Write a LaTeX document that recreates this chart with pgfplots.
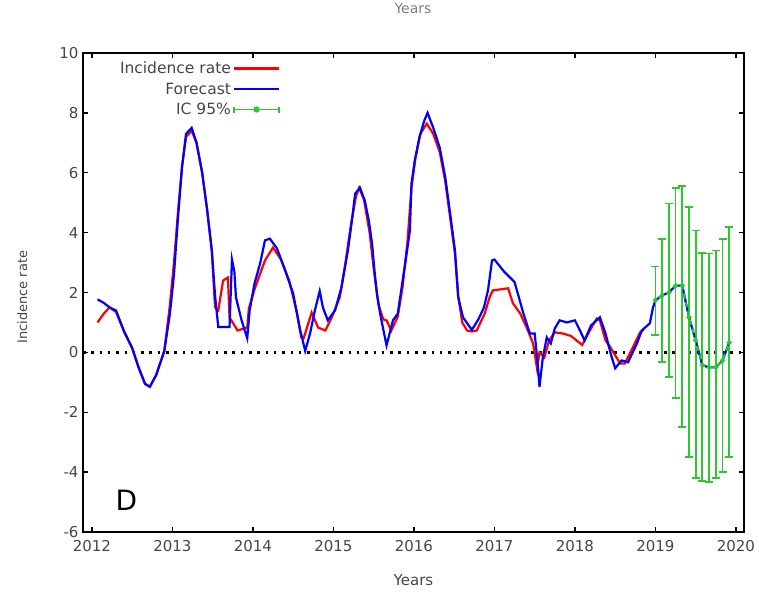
\documentclass[border=0pt]{standalone}
\usepackage{pgfplots}
\usepackage{pgfplotstable}
\pgfplotsset{compat=1.18}
\usepackage{fontspec}
\setmainfont{DejaVu Sans}
\definecolor{myred}{RGB}{255,0,0}
\definecolor{myblue}{RGB}{0,0,255}
\definecolor{mygreen}{RGB}{45,200,45}
\definecolor{txt}{RGB}{70,70,70}

\pgfplotstableread{
x y
2012.07 1.0
2012.15 1.3
2012.22 1.5
2012.30 1.35
2012.40 0.7
2012.50 0.15
2012.58 -0.5
2012.66 -1.05
2012.72 -1.15
2012.80 -0.75
2012.90 0.05
2012.97 1.6
2013.02 3.0
2013.07 4.7
2013.12 6.2
2013.17 7.2
2013.24 7.4
2013.30 7.0
2013.37 6.0
2013.43 4.8
2013.49 3.4
2013.53 1.5
2013.57 1.4
2013.63 2.4
2013.69 2.5
2013.71 1.17
2013.81 0.73
2013.93 0.83
2013.95 1.47
2014.02 2.1
2014.10 2.7
2014.15 3.07
2014.25 3.5
2014.35 3.1
2014.45 2.4
2014.55 1.3
2014.60 0.5
2014.63 0.47
2014.73 1.33
2014.81 0.83
2014.90 0.73
2014.98 1.17
2015.08 1.84
2015.15 3.0
2015.22 4.3
2015.28 5.2
2015.32 5.5
2015.38 5.1
2015.45 4.0
2015.50 2.8
2015.56 1.6
2015.62 1.1
2015.66 1.07
2015.72 0.73
2015.80 1.2
2015.86 2.2
2015.92 3.7
2015.97 5.5
2016.02 6.5
2016.08 7.3
2016.16 7.64
2016.24 7.3
2016.32 6.7
2016.39 5.7
2016.45 4.5
2016.51 3.3
2016.55 1.9
2016.60 1.0
2016.66 0.73
2016.72 0.7
2016.78 0.73
2016.88 1.3
2016.94 1.84
2016.98 2.07
2017.17 2.14
2017.23 1.64
2017.32 1.3
2017.40 0.83
2017.48 0.3
2017.53 -0.55
2017.56 0.0
2017.62 -0.17
2017.68 0.4
2017.75 0.67
2017.85 0.63
2017.95 0.55
2018.02 0.4
2018.09 0.25
2018.18 0.7
2018.27 1.13
2018.31 1.07
2018.38 0.4
2018.45 0.13
2018.56 -0.37
2018.62 -0.37
2018.72 0.17
2018.81 0.67
2018.85 0.75
}\incidence

\pgfplotstableread{
x y
2012.07 1.77
2012.15 1.65
2012.22 1.5
2012.30 1.4
2012.40 0.7
2012.50 0.15
2012.58 -0.5
2012.66 -1.05
2012.72 -1.15
2012.80 -0.75
2012.90 0.05
2012.97 1.3
2013.02 2.6
2013.07 4.5
2013.12 6.2
2013.17 7.3
2013.24 7.5
2013.30 7.0
2013.37 6.0
2013.43 4.8
2013.49 3.4
2013.53 1.9
2013.57 0.85
2013.71 0.85
2013.74 3.1
2013.77 2.7
2013.79 1.83
2013.86 1.07
2013.93 0.47
2013.96 1.4
2014.02 2.3
2014.09 2.97
2014.15 3.74
2014.21 3.8
2014.30 3.47
2014.40 2.74
2014.50 1.97
2014.58 0.83
2014.65 0.05
2014.71 0.63
2014.77 1.4
2014.83 2.05
2014.87 1.5
2014.93 1.07
2015.02 1.4
2015.10 2.17
2015.18 3.4
2015.23 4.4
2015.27 5.3
2015.33 5.5
2015.39 5.07
2015.44 4.4
2015.48 3.64
2015.51 2.74
2015.54 1.97
2015.58 1.3
2015.66 0.23
2015.74 1.07
2015.80 1.3
2015.86 2.4
2015.91 3.3
2015.95 4.07
2015.97 5.64
2016.01 6.4
2016.07 7.2
2016.13 7.75
2016.17 8.0
2016.24 7.5
2016.32 6.85
2016.39 5.84
2016.45 4.64
2016.51 3.4
2016.55 1.84
2016.61 1.17
2016.72 0.75
2016.80 1.1
2016.87 1.5
2016.92 2.07
2016.97 3.07
2017.00 3.1
2017.12 2.7
2017.25 2.35
2017.29 1.97
2017.36 1.3
2017.44 0.63
2017.50 0.63
2017.53 -0.17
2017.56 -1.15
2017.60 -0.2
2017.65 0.5
2017.70 0.3
2017.75 0.8
2017.81 1.07
2017.90 1.0
2018.00 1.07
2018.05 0.8
2018.12 0.4
2018.20 0.9
2018.31 1.17
2018.38 0.63
2018.45 -0.1
2018.50 -0.53
2018.58 -0.27
2018.66 -0.33
2018.77 0.3
2018.83 0.73
2018.93 0.97
2018.97 1.5
2019.000 1.74
2019.083 1.9
2019.167 2.0
2019.250 2.23
2019.333 2.23
2019.417 1.17
2019.500 0.4
2019.583 -0.43
2019.667 -0.5
2019.750 -0.5
2019.833 -0.27
2019.917 0.33
}\forecast

\pgfplotstableread{
x y
2019.000 1.74
2019.083 1.9
2019.167 2.0
2019.250 2.23
2019.333 2.23
2019.417 1.17
2019.500 0.4
2019.583 -0.43
2019.667 -0.5
2019.750 -0.5
2019.833 -0.27
2019.917 0.33
}\forecastlate

\pgfplotstableread{
x y hi lo
2019.000 1.74 2.87 0.57
2019.083 1.9 3.8 -0.33
2019.167 2.0 4.97 -0.83
2019.250 2.23 5.5 -1.53
2019.333 2.23 5.57 -2.5
2019.417 1.17 4.85 -3.5
2019.500 0.4 4.07 -4.2
2019.583 -0.43 3.33 -4.3
2019.667 -0.5 3.3 -4.33
2019.750 -0.5 3.4 -4.2
2019.833 -0.27 3.8 -4.0
2019.917 0.33 4.2 -3.5
}\ic

\begin{document}
\begin{tikzpicture}
\useasboundingbox (0pt,0pt) rectangle (759pt,591pt);
\begin{axis}[
  at={(83pt,59pt)}, anchor=south west,
  scale only axis, width=661pt, height=479pt,
  xmin=2011.89, xmax=2020.1, ymin=-6, ymax=10,
  xtick={2012,2013,...,2020},
  ytick={-6,-4,...,10},
  /pgf/number format/1000 sep={},
  /pgf/number format/assume math mode=true,
  tick label style={font=\fontsize{15}{18}\selectfont, text=txt},
  axis line style={line width=1.6pt, black},
  major tick length=5pt,
  tick style={line width=1.4pt, black},
  tick align=inside,
  xticklabel style={yshift=-5pt},
  yticklabel style={xshift=-1pt},
  xlabel={Years},
  xlabel style={at={(axis description cs:0.5,-0.100)}, anchor=center, font=\fontsize{15}{18}\selectfont, text=txt},
  ylabel={Incidence rate},
  ylabel style={at={(axis description cs:-0.092,0.49)}, anchor=center, font=\fontsize{13}{16}\selectfont, text=txt},
  legend plot pos=right,
  legend cell align=right,
  legend style={draw=none, fill=none, at={(axis description cs:0.300,0.988)}, anchor=north east,
    font=\fontsize{15.5}{20}\selectfont, text=txt, row sep=3.5pt, inner sep=1pt},
  legend image code/.code={\draw[#1] (0pt,0pt) -- (45pt,0pt);},
]
\addplot[black, line width=2.5pt, dash pattern=on 2.5pt off 5.8pt, forget plot] coordinates {(2011.89,0) (2020.1,0)};
\addplot[myred, line width=2.2pt] table[x=x,y=y] {\incidence};
\addlegendentry{Incidence rate}
\addplot[myblue, line width=2.2pt] table[x=x,y=y] {\forecast};
\addlegendentry{Forecast}
\addplot[mygreen, line width=1.8pt, mark=*, mark size=1.6pt, mark options={mygreen},
  error bars/.cd, y dir=both, y explicit,
  error bar style={line width=1.8pt, mygreen},
  error mark options={mygreen, line width=1.8pt, mark size=4pt, rotate=90},
  /pgfplots/legend image code/.code={%
    \draw[mygreen, line width=1.8pt] (0pt,0pt) -- (45pt,0pt);
    \draw[mygreen, line width=1.8pt] (0pt,-3pt) -- (0pt,3pt);
    \draw[mygreen, line width=1.8pt] (45pt,-3pt) -- (45pt,3pt);
    \fill[mygreen] (22.5pt,0pt) circle (2.2pt);}
] table[x=x, y=y, y error plus expr=\thisrow{hi}-\thisrow{y}, y error minus expr=\thisrow{y}-\thisrow{lo}] {\ic};
\addlegendentry{IC 95\%}
\addplot[myblue, line width=1.6pt, dash pattern=on 4pt off 5pt, forget plot] table[x=x,y=y] {\forecastlate};
\node[font=\fontsize{28}{30}\selectfont, anchor=center] at (axis cs:2012.43,-4.95) {D};
\end{axis}
\node[font=\fontsize{14}{16}\selectfont, text=txt!70] at (413pt,582pt) {Years};
\end{tikzpicture}
\end{document}
